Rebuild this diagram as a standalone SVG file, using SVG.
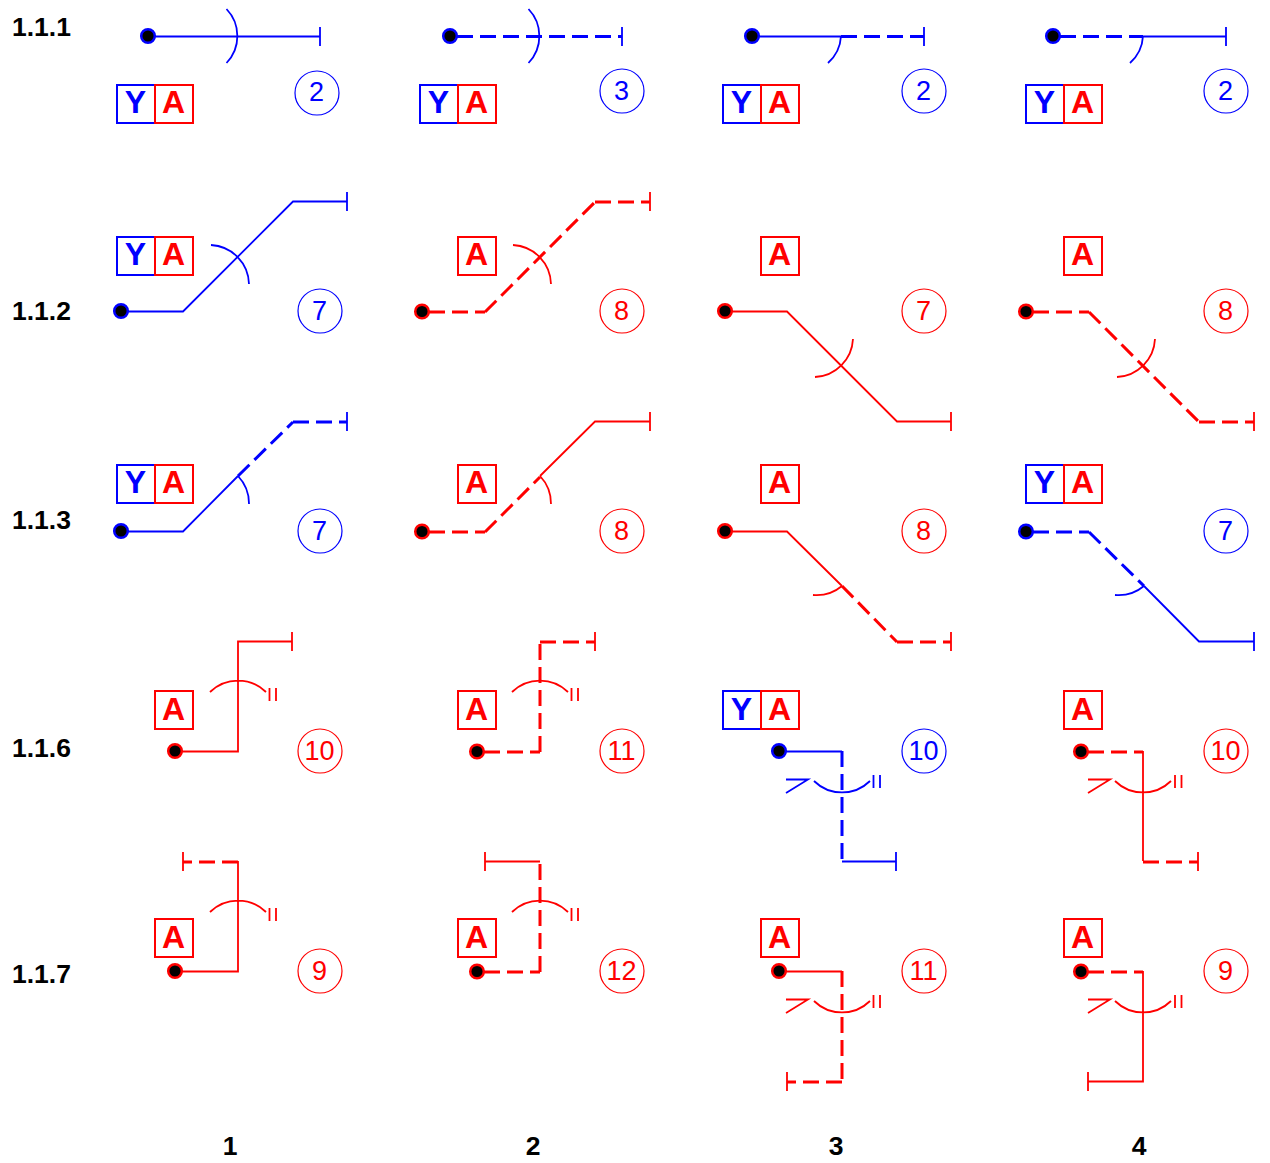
<svg xmlns="http://www.w3.org/2000/svg" width="1270" height="1163" viewBox="0 0 1270 1163">
<style>
text{font-family:"Liberation Sans",Arial,sans-serif}
.lbl{font-size:26.500px;font-weight:bold;fill:#000}
.c{text-anchor:middle}
path,line,rect,circle{fill:none}
.b{stroke:#00f;color:#00f}
.r{stroke:#f00;color:#f00}
.s{stroke-width:1.800}
.d{stroke-width:3;stroke-dasharray:16 7}
.box{stroke-width:2;fill:#fff}
.dot{fill:#000;stroke-width:2.500}
.k{font-size:32px;font-weight:bold;text-anchor:middle}
.n{font-size:27px;text-anchor:middle}
.o{stroke-width:1.200}
.tb{fill:#00f}.tr{fill:#f00}
</style>
<defs>
<g id="ya"><rect class="box b" x="0" y="0" width="38" height="38"/><rect class="box r" x="38" y="0" width="38" height="38"/></g>
<g id="II"><path class="s" d="M0 0v13M6.500 0v13"/></g>
</defs>
<g id="row-labels">
<text class="lbl" x="12" y="36">1.1.1</text>
<text class="lbl" x="12" y="320">1.1.2</text>
<text class="lbl" x="12" y="529">1.1.3</text>
<text class="lbl" x="12" y="757">1.1.6</text>
<text class="lbl" x="12" y="983">1.1.7</text>
<text class="lbl c" x="230" y="1155">1</text>
<text class="lbl c" x="533" y="1155">2</text>
<text class="lbl c" x="836" y="1155">3</text>
<text class="lbl c" x="1139" y="1155">4</text>
</g>
<g id="connectors">
<!-- row 1 -->
<path class="b s" d="M148 36.500H320M320 27V46M226.500 9A39 39 0 0 1 226.500 63"/>
<path class="b d" d="M457 36.500H622"/><path class="b s" d="M622 27V46M528.500 9A39 39 0 0 1 528.500 63"/>
<path class="b s" d="M752 36.500H841M924 27V46M841 36A39 39 0 0 1 828 63"/><path class="b d" d="M841 36.500H924"/>
<path class="b d" d="M1060 36.500H1143"/><path class="b s" d="M1143 36.500H1226M1226 27V46M1143 36A39 39 0 0 1 1130 63"/>
<!-- row 2 -->
<path class="b s" d="M121 311.500H183L293 201.500H347M347 192V211M211 245A40 40 0 0 1 249 284"/>
<path class="r d" d="M429 312H485M485 312L595 202M595 202H650"/><path class="r s" d="M650 192V211M513 245A40 40 0 0 1 551 284"/>
<path class="r s" d="M725 311.500H787L897 421.500H951M951 412V431M853 339A40 40 0 0 1 815 377"/>
<path class="r d" d="M1033 312H1089M1089 312L1199 422M1199 422H1254"/><path class="r s" d="M1254 412V431M1155 339A40 40 0 0 1 1117 377"/>
<!-- row 3 -->
<path class="b s" d="M121 531.500H183L238 476M238 476A40 40 0 0 1 249 504M347 412V431"/><path class="b d" d="M238 476L293 422M293 422H347"/>
<path class="r d" d="M429 532H485M485 532L540 477"/><path class="r s" d="M540 476L595 421.500H650M650 412V431M540 476A40 40 0 0 1 551 504"/>
<path class="r s" d="M725 531.500H787L842 586M842 586A40 40 0 0 1 813 595M951 632V651"/><path class="r d" d="M842 586L897 642M897 642H951"/>
<path class="b d" d="M1033 532H1089M1089 532L1144 586"/><path class="b s" d="M1144 586L1199 641.500H1254M1254 632V651M1144 586A40 40 0 0 1 1115 595"/>
<!-- row 4 -->
<path class="r s" d="M175 751.500H238V641.500H292M292 632V651M210 692A40 40 0 0 1 266 692"/><use href="#II" class="r" x="269.500" y="688"/>
<path class="r d" d="M484 752H540M540 752V642M540 642H595"/><path class="r s" d="M595 632V651M512 692A40 40 0 0 1 568 692"/><use href="#II" class="r" x="571.500" y="688"/>
<path class="b s" d="M779 751.500H842M842 861.500H896M896 852V871M814 781A40 40 0 0 0 870 781M786 779.500H808L786 793"/><path class="b d" d="M842 751V861"/><use href="#II" class="b" x="873.500" y="775"/>
<path class="r d" d="M1088 752H1143"/><path class="r s" d="M1143 751V861M1198 852V871M1115 781A40 40 0 0 0 1171 781M1088 779.500H1110L1088 793"/><path class="r d" d="M1143 862H1198"/><use href="#II" class="r" x="1175" y="775"/>
<!-- row 5 -->
<path class="r s" d="M175 971.500H238V861M183 852V871M210 912A40 40 0 0 1 266 912"/><path class="r d" d="M238 862H183"/><use href="#II" class="r" x="269.500" y="908"/>
<path class="r d" d="M484 972H540M540 972V861"/><path class="r s" d="M540 861.500H485M485 852V871M512 912A40 40 0 0 1 568 912"/><use href="#II" class="r" x="571.500" y="908"/>
<path class="r s" d="M779 971.500H842M787 1072V1091M814 1001A40 40 0 0 0 870 1001M786 999.500H808L786 1013"/><path class="r d" d="M842 971V1082M842 1082H787"/><use href="#II" class="r" x="873.500" y="995"/>
<path class="r d" d="M1088 972H1143"/><path class="r s" d="M1143 971V1081.500H1088M1088 1072V1091M1115 1001A40 40 0 0 0 1171 1001M1088 999.500H1110L1088 1013"/><use href="#II" class="r" x="1175" y="995"/>
</g>
<g id="n111-1"><circle class="dot b" cx="148" cy="36" r="6.800"/><use href="#ya" x="117" y="85"/><text class="k tb" x="135.500" y="113">Y</text><text class="k tr" x="173.500" y="113">A</text><circle class="b o" cx="317" cy="93" r="22"/><text class="n tb" x="316.500" y="101">2</text></g>
<g id="n111-2"><circle class="dot b" cx="450" cy="36" r="6.800"/><use href="#ya" x="420" y="85"/><text class="k tb" x="438.500" y="113">Y</text><text class="k tr" x="476.500" y="113">A</text><circle class="b o" cx="622" cy="91" r="22"/><text class="n tb" x="621.500" y="100">3</text></g>
<g id="n111-3"><circle class="dot b" cx="752" cy="36" r="6.800"/><use href="#ya" x="723" y="85"/><text class="k tb" x="741.500" y="113">Y</text><text class="k tr" x="779.500" y="113">A</text><circle class="b o" cx="924" cy="91" r="22"/><text class="n tb" x="923.500" y="100">2</text></g>
<g id="n111-4"><circle class="dot b" cx="1053" cy="36" r="6.800"/><use href="#ya" x="1026" y="85"/><text class="k tb" x="1044.500" y="113">Y</text><text class="k tr" x="1082.500" y="113">A</text><circle class="b o" cx="1226" cy="91" r="22"/><text class="n tb" x="1225.500" y="100">2</text></g>
<g id="n112-1"><circle class="dot b" cx="121" cy="311" r="6.800"/><use href="#ya" x="117" y="237"/><text class="k tb" x="135.500" y="265">Y</text><text class="k tr" x="173.500" y="265">A</text><circle class="b o" cx="320" cy="311" r="22"/><text class="n tb" x="319.500" y="320">7</text></g>
<g id="n112-2"><circle class="dot r" cx="422" cy="311.500" r="6.800"/><rect class="box r" x="458" y="237" width="38" height="38"/><text class="k tr" x="476.500" y="265">A</text><circle class="r o" cx="622" cy="311" r="22"/><text class="n tr" x="621.500" y="320">8</text></g>
<g id="n112-3"><circle class="dot r" cx="725" cy="311" r="6.800"/><rect class="box r" x="761" y="237" width="38" height="38"/><text class="k tr" x="779.500" y="265">A</text><circle class="r o" cx="924" cy="311" r="22"/><text class="n tr" x="923.500" y="320">7</text></g>
<g id="n112-4"><circle class="dot r" cx="1026" cy="311.500" r="6.800"/><rect class="box r" x="1064" y="237" width="38" height="38"/><text class="k tr" x="1082.500" y="265">A</text><circle class="r o" cx="1226" cy="311" r="22"/><text class="n tr" x="1225.500" y="320">8</text></g>
<g id="n113-1"><circle class="dot b" cx="121" cy="531" r="6.800"/><use href="#ya" x="117" y="465"/><text class="k tb" x="135.500" y="493">Y</text><text class="k tr" x="173.500" y="493">A</text><circle class="b o" cx="320" cy="531" r="22"/><text class="n tb" x="319.500" y="540">7</text></g>
<g id="n113-2"><circle class="dot r" cx="422" cy="531.500" r="6.800"/><rect class="box r" x="458" y="465" width="38" height="38"/><text class="k tr" x="476.500" y="493">A</text><circle class="r o" cx="622" cy="531" r="22"/><text class="n tr" x="621.500" y="540">8</text></g>
<g id="n113-3"><circle class="dot r" cx="725" cy="531" r="6.800"/><rect class="box r" x="761" y="465" width="38" height="38"/><text class="k tr" x="779.500" y="493">A</text><circle class="r o" cx="924" cy="531" r="22"/><text class="n tr" x="923.500" y="540">8</text></g>
<g id="n113-4"><circle class="dot b" cx="1026" cy="531.500" r="6.800"/><use href="#ya" x="1026" y="465"/><text class="k tb" x="1044.500" y="493">Y</text><text class="k tr" x="1082.500" y="493">A</text><circle class="b o" cx="1226" cy="531" r="22"/><text class="n tb" x="1225.500" y="540">7</text></g>
<g id="n116-1"><circle class="dot r" cx="175" cy="751" r="6.800"/><rect class="box r" x="155" y="691" width="38" height="38"/><text class="k tr" x="173.500" y="720">A</text><circle class="r o" cx="320" cy="751" r="22"/><text class="n tr" x="319.500" y="760">10</text></g>
<g id="n116-2"><circle class="dot r" cx="477" cy="751.500" r="6.800"/><rect class="box r" x="458" y="691" width="38" height="38"/><text class="k tr" x="476.500" y="720">A</text><circle class="r o" cx="622" cy="751" r="22"/><text class="n tr" x="621.500" y="760">11</text></g>
<g id="n116-3"><circle class="dot b" cx="779" cy="751" r="6.800"/><use href="#ya" x="723" y="691"/><text class="k tb" x="741.500" y="720">Y</text><text class="k tr" x="779.500" y="720">A</text><circle class="b o" cx="924" cy="751" r="22"/><text class="n tb" x="923.500" y="760">10</text></g>
<g id="n116-4"><circle class="dot r" cx="1081" cy="751.500" r="6.800"/><rect class="box r" x="1064" y="691" width="38" height="38"/><text class="k tr" x="1082.500" y="720">A</text><circle class="r o" cx="1226" cy="751" r="22"/><text class="n tr" x="1225.500" y="760">10</text></g>
<g id="n117-1"><circle class="dot r" cx="175" cy="971" r="6.800"/><rect class="box r" x="155" y="919" width="38" height="38"/><text class="k tr" x="173.500" y="948">A</text><circle class="r o" cx="320" cy="971" r="22"/><text class="n tr" x="319.500" y="980">9</text></g>
<g id="n117-2"><circle class="dot r" cx="477" cy="971.500" r="6.800"/><rect class="box r" x="458" y="919" width="38" height="38"/><text class="k tr" x="476.500" y="948">A</text><circle class="r o" cx="622" cy="971" r="22"/><text class="n tr" x="621.500" y="980">12</text></g>
<g id="n117-3"><circle class="dot r" cx="779" cy="971" r="6.800"/><rect class="box r" x="761" y="919" width="38" height="38"/><text class="k tr" x="779.500" y="948">A</text><circle class="r o" cx="924" cy="971" r="22"/><text class="n tr" x="923.500" y="980">11</text></g>
<g id="n117-4"><circle class="dot r" cx="1081" cy="971.500" r="6.800"/><rect class="box r" x="1064" y="919" width="38" height="38"/><text class="k tr" x="1082.500" y="948">A</text><circle class="r o" cx="1226" cy="971" r="22"/><text class="n tr" x="1225.500" y="980">9</text></g>
</svg>
